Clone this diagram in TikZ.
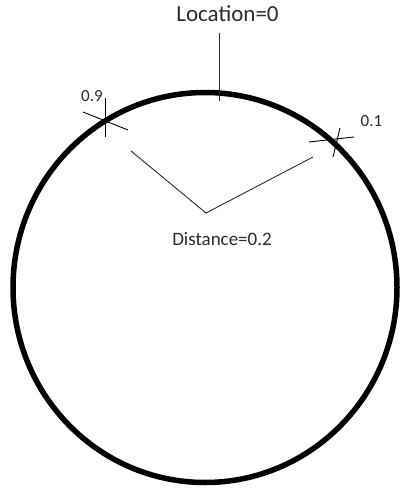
\documentclass[tikz,border=0pt]{standalone}
\usepackage{fontspec}
\setmainfont{Carlito}
\definecolor{inkgray}{HTML}{2B2B2B}
\usetikzlibrary{positioning}

\begin{document}
\begin{tikzpicture}[
  x=1pt,y=-1pt,
  lbl/.style={anchor=base,inner sep=0pt,text=inkgray},
  ring/.style={draw=black,line width=5.5pt},
  thin/.style={draw=inkgray,line width=0.9pt},
  tick/.style={draw=black,line width=0.9pt}]
\useasboundingbox (0,0) rectangle (401,489);
% circle
\draw[ring] (205,287.5) ellipse [x radius=192, y radius=195];
% labels
\node[lbl,font=\fontsize{23}{26}\selectfont] (loc) at (227.5,22) {Location=0};
\node[lbl,font=\fontsize{19}{22}\selectfont] (dist) at (222,245) {Distance=0.2};
\node[lbl,font=\fontsize{17}{20}\selectfont] (n09) at (92,102) {0.9};
\node[lbl,font=\fontsize{17}{20}\selectfont] (n01) at (371.5,127) {0.1};
% marker for location 0
\coordinate (ltop) at (219,33);
\coordinate (lbot) at (219,101);
\draw[thin] (ltop) -- (lbot);
% crosses
\coordinate (c9a) at (105,98);   \coordinate (c9b) at (105,137);
\coordinate (c9c) at (83,112);   \coordinate (c9d) at (128,130);
\draw[tick] (c9a) -- (c9b); \draw[tick] (c9c) -- (c9d);
\coordinate (c1a) at (340,128);  \coordinate (c1b) at (333,157);
\coordinate (c1c) at (309,142);  \coordinate (c1d) at (354,137);
\draw[tick] (c1a) -- (c1b); \draw[tick] (c1c) -- (c1d);
% distance arms
\coordinate (armL) at (131,151);
\coordinate (vtx) at (206,213);
\coordinate (armR) at (313,157);
\draw[thin] (armL) -- (vtx) -- (armR);
\end{tikzpicture}
\end{document}
